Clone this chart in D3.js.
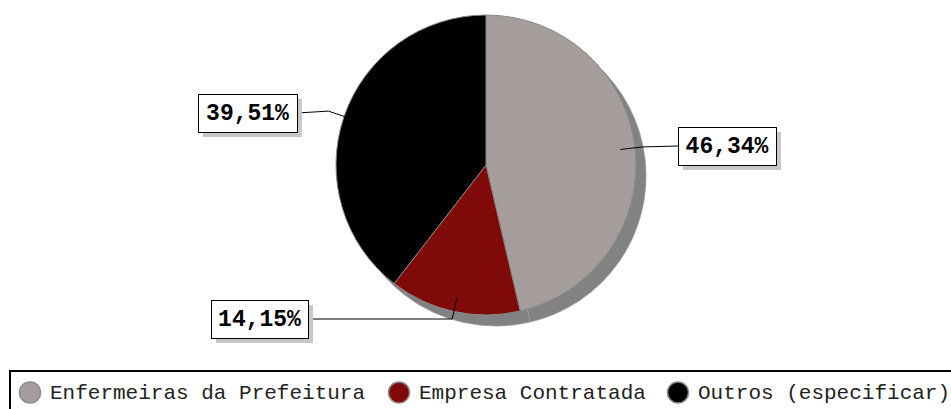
<!DOCTYPE html>
<html><head><meta charset="utf-8">
<script src="https://cdn.jsdelivr.net/npm/d3@7"></script>
<style>html,body{margin:0;padding:0;background:#fff;}svg{display:block;}</style>
</head><body>
<svg id="chart" width="951" height="409"></svg>
<script>
const categories = ["Enfermeiras da Prefeitura", "Empresa Contratada", "Outros (especificar)"];
const values = [46.34, 14.15, 39.51];
const labels = ["46,34%", "14,15%", "39,51%"];
const colors = ["#A59D9C", "#800A0A", "#000000"];

const svg = d3.select("#chart");
const cx = 486, cy = 165, r = 150;

const pie = d3.pie().sort(null).value(d => d)(values);
const arc = d3.arc().innerRadius(0).outerRadius(r);

// shadow
const sh = svg.append("g").attr("transform", `translate(${cx + 10},${cy + 11})`);
sh.selectAll("path").data(pie).join("path")
  .attr("d", arc).attr("fill", "#828282").attr("stroke", "#9a9a9a").attr("stroke-width", 0.8);

const g = svg.append("g").attr("transform", `translate(${cx},${cy})`);
g.selectAll("path").data(pie).join("path")
  .attr("d", arc).attr("fill", (d, i) => colors[i])
  .attr("stroke", "#8a8a8a").attr("stroke-width", 1);

// label boxes (layout)
const boxes = [
  {x: 678, y: 127, w: 98, h: 38},
  {x: 211, y: 300, w: 97, h: 38},
  {x: 198, y: 94, w: 99, h: 38}
];
const elbowR = [1.05, 1.06, 1.11];

pie.forEach((d, i) => {
  const a = (d.startAngle + d.endAngle) / 2;
  const b = boxes[i];
  const by = b.y + b.h / 2;
  const sx = cx + 0.9 * r * Math.sin(a), sy = cy - 0.9 * r * Math.cos(a);
  const ex = cx + elbowR[i] * r * Math.sin(a), ey = cy - elbowR[i] * r * Math.cos(a);
  const bx = (ex > cx) ? b.x : b.x + b.w;
  let pts;
  if (i === 1) {
    pts = [[sx, sy], [ex, by], [bx, by]];
  } else {
    pts = [[sx, sy], [ex, ey], [bx, by]];
  }
  svg.append("path").attr("d", d3.line()(pts))
    .attr("fill", "none").attr("stroke", "#000").attr("stroke-width", 1);
  svg.append("rect").attr("x", b.x + 5).attr("y", b.y + 5).attr("width", b.w).attr("height", b.h)
    .attr("fill", "#c8c8c8");
  svg.append("rect").attr("x", b.x + 0.5).attr("y", b.y + 0.5).attr("width", b.w).attr("height", b.h)
    .attr("fill", "#fff").attr("stroke", "#000").attr("stroke-width", 1);
  svg.append("text").attr("x", b.x + b.w / 2).attr("y", by + 1)
    .attr("text-anchor", "middle").attr("dominant-baseline", "central")
    .attr("font-family", "'Liberation Mono', 'Courier New', monospace")
    .attr("font-weight", "bold").attr("font-size", 23).attr("fill", "#000")
    .text(labels[i]);
});

// legend
svg.append("rect").attr("x", 10).attr("y", 371).attr("width", 960).attr("height", 60)
  .attr("fill", "#fff").attr("stroke", "#000").attr("stroke-width", 2);
const legendX = [50, 419, 698];
categories.forEach((c, i) => {
  svg.append("circle").attr("cx", legendX[i] - 20).attr("cy", 392.5).attr("r", 10.5)
    .attr("fill", colors[i]).attr("stroke", "#8a8a8a").attr("stroke-width", 1.5);
  svg.append("text").attr("x", legendX[i]).attr("y", 399)
    .attr("font-family", "'Liberation Mono', 'Courier New', monospace")
    .attr("font-size", 21).attr("fill", "#222").text(c);
});
</script>
</body></html>
